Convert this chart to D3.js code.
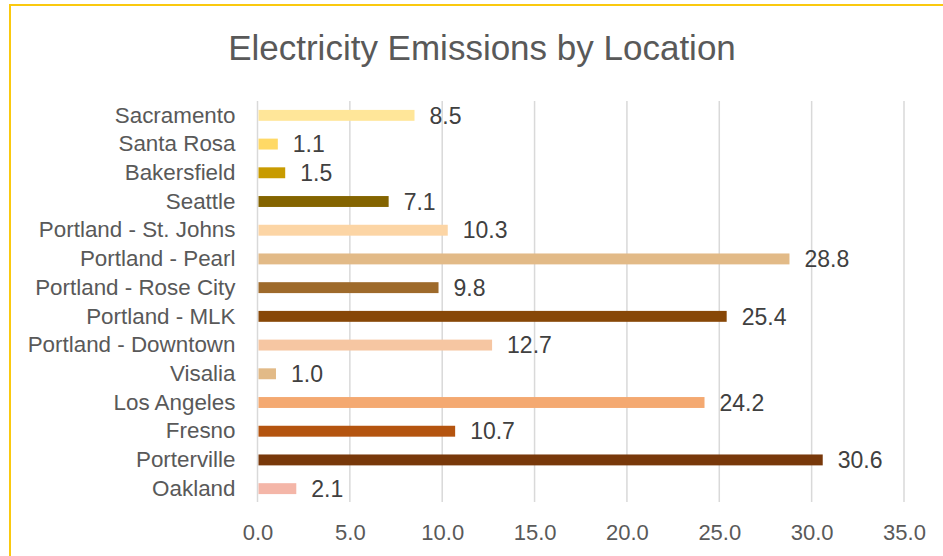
<!DOCTYPE html>
<html>
<head>
<meta charset="utf-8">
<script src="https://cdn.jsdelivr.net/npm/d3@7"></script>
<style>
  html, body { margin: 0; padding: 0; background: #fff; }
  svg { display: block; font-family: "Liberation Sans", Arial, sans-serif; }
</style>
</head>
<body>
<svg id="chart" width="943" height="556"></svg>
<script>
// Electricity emissions per location (top to bottom as listed)
const locations = [
  "Sacramento", "Santa Rosa", "Bakersfield", "Seattle",
  "Portland - St. Johns", "Portland - Pearl", "Portland - Rose City",
  "Portland - MLK", "Portland - Downtown", "Visalia", "Los Angeles",
  "Fresno", "Porterville", "Oakland"
];
const emissions = [8.5, 1.1, 1.5, 7.1, 10.3, 28.8, 9.8, 25.4, 12.7, 1.0, 24.2, 10.7, 30.6, 2.1];
const barColors = [
  "#FFE699", "#FFD966", "#C89B00", "#846400",
  "#FCD5A5", "#E2BA87", "#9E6A2B",
  "#874707", "#F6C6A2", "#E2BA87", "#F4A971",
  "#B4540F", "#78380A", "#F4B6A8"
];
const xTicks = [0, 5, 10, 15, 20, 25, 30, 35];
const title = "Electricity Emissions by Location";

const svg = d3.select("#chart");
const plot = { left: 257.5, right: 904, top: 101, bottom: 503 };

// chart frame
svg.append("rect")
  .attr("x", 10).attr("y", 5)
  .attr("width", 980).attr("height", 620)
  .attr("fill", "#fff")
  .attr("stroke", "#FAC90F")
  .attr("stroke-width", 2);

svg.append("text")
  .attr("x", 482).attr("y", 60)
  .attr("text-anchor", "middle")
  .attr("font-size", 35)
  .attr("fill", "#595959")
  .text(title);

const x = d3.scaleLinear().domain([0, 35]).range([plot.left, plot.right]);
const y = d3.scaleBand().domain(locations).range([plot.top, plot.bottom]).paddingInner(0.62).paddingOuter(0.31);

// vertical gridlines
svg.append("g")
  .selectAll("line")
  .data(xTicks)
  .join("line")
  .attr("x1", d => x(d)).attr("x2", d => x(d))
  .attr("y1", plot.top).attr("y2", plot.bottom - 1)
  .attr("stroke", "#D9D9D9")
  .attr("stroke-width", 1.5);

// x axis tick labels
const xAxis = d3.axisBottom(x).tickValues(xTicks).tickFormat(d3.format(".1f")).tickSize(0).tickPadding(0);
const gx = svg.append("g").attr("transform", `translate(0, ${plot.bottom + 29})`).call(xAxis);
gx.select(".domain").remove();
gx.selectAll("text")
  .attr("font-size", 22)
  .attr("font-family", "Liberation Sans, Arial, sans-serif")
  .attr("fill", "#595959")
  .attr("dy", "0.35em")
  .attr("y", 0);

// category labels
const yAxis = d3.axisLeft(y).tickSize(0).tickPadding(0);
const gy = svg.append("g").attr("transform", `translate(${plot.left - 22}, 0)`).call(yAxis);
gy.select(".domain").remove();
gy.selectAll("text")
  .attr("font-size", 22.4)
  .attr("font-family", "Liberation Sans, Arial, sans-serif")
  .attr("fill", "#595959");

// bars
const rows = locations.map((name, i) => ({ name, value: emissions[i], color: barColors[i] }));
svg.append("g")
  .selectAll("rect")
  .data(rows)
  .join("rect")
  .attr("x", x(0) + 1)
  .attr("y", d => y(d.name))
  .attr("width", d => x(d.value) - x(0) - 1)
  .attr("height", y.bandwidth())
  .attr("fill", d => d.color);

// value labels
svg.append("g")
  .selectAll("text")
  .data(rows)
  .join("text")
  .attr("x", d => x(d.value) + 15)
  .attr("y", d => y(d.name) + y.bandwidth() / 2)
  .attr("dy", "0.36em")
  .attr("font-size", 23)
  .attr("fill", "#404040")
  .text(d => d.value.toFixed(1));
</script>
</body>
</html>
